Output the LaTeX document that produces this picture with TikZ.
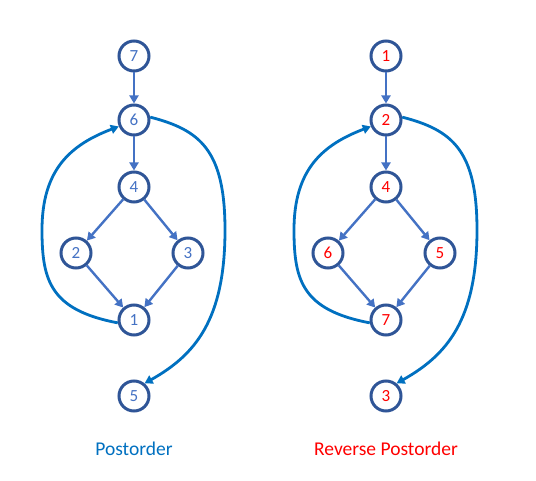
\documentclass[tikz,border=0pt]{standalone}
\usepackage{fontspec}
\setmainfont{Carlito}
\usetikzlibrary{arrows.meta}
\definecolor{ringc}{HTML}{2F5597}
\definecolor{numc}{HTML}{4472C4}
\definecolor{curvec}{HTML}{0070C0}
\definecolor{redc}{HTML}{FF0000}
\tikzset{
  vtx/.style={circle,draw=ringc,line width=3pt,minimum size=30pt,inner sep=0pt,fill=white,font=\fontsize{17}{17}\selectfont},
  bnum/.style={vtx,text=numc},
  rnum/.style={vtx,text=redc},
  edge/.style={draw=numc,line width=2.4pt,-{Triangle[length=8pt,width=9pt]}},
  loopc/.style={draw=curvec,line width=2.8pt,-{Triangle[length=8pt,width=9pt]}},
  caption/.style={font=\fontsize{19.5}{19.5}\selectfont}
}
\begin{document}
\begin{tikzpicture}[x=1pt,y=-1pt]
\useasboundingbox (0,0) rectangle (536,481);
% left graph
\node[bnum] (a7) at (134,56) {7};
\node[bnum] (a6) at (134,120) {6};
\node[bnum] (a4) at (134,187) {4};
\node[bnum] (a2) at (76,253) {2};
\node[bnum] (a3) at (188,253) {3};
\node[bnum] (a1) at (134,320) {1};
\node[bnum] (a5) at (134,396) {5};
\draw[edge] (a7) -- (a6);
\draw[edge] (a6) -- (a4);
\draw[edge] (a4) -- (a2);
\draw[edge] (a4) -- (a3);
\draw[edge] (a2) -- (a1);
\draw[edge] (a3) -- (a1);
\draw[loopc] (a1.190) .. controls (50,310) and (42,280) .. (42,230) .. controls (42,170) and (70,145) .. (a6.203);
\draw[loopc] (a6.10) .. controls (200,130) and (225,150) .. (225,230) .. controls (225,320) and (195,355) .. (a5.50);
\node[caption,text=curvec] (capa) at (134,449) {Postorder};
% right graph
\node[rnum] (b1) at (386,56) {1};
\node[rnum] (b2) at (386,120) {2};
\node[rnum] (b4) at (386,187) {4};
\node[rnum] (b6) at (328,253) {6};
\node[rnum] (b5) at (440,253) {5};
\node[rnum] (b7) at (386,320) {7};
\node[rnum] (b3) at (386,396) {3};
\draw[edge] (b1) -- (b2);
\draw[edge] (b2) -- (b4);
\draw[edge] (b4) -- (b6);
\draw[edge] (b4) -- (b5);
\draw[edge] (b6) -- (b7);
\draw[edge] (b5) -- (b7);
\draw[loopc] (b7.190) .. controls (302,310) and (294,280) .. (294,230) .. controls (294,170) and (322,145) .. (b2.203);
\draw[loopc] (b2.10) .. controls (452,130) and (477,150) .. (477,230) .. controls (477,320) and (447,355) .. (b3.50);
\node[caption,text=redc] (capb) at (386,449) {Reverse Postorder};
\end{tikzpicture}
\end{document}
